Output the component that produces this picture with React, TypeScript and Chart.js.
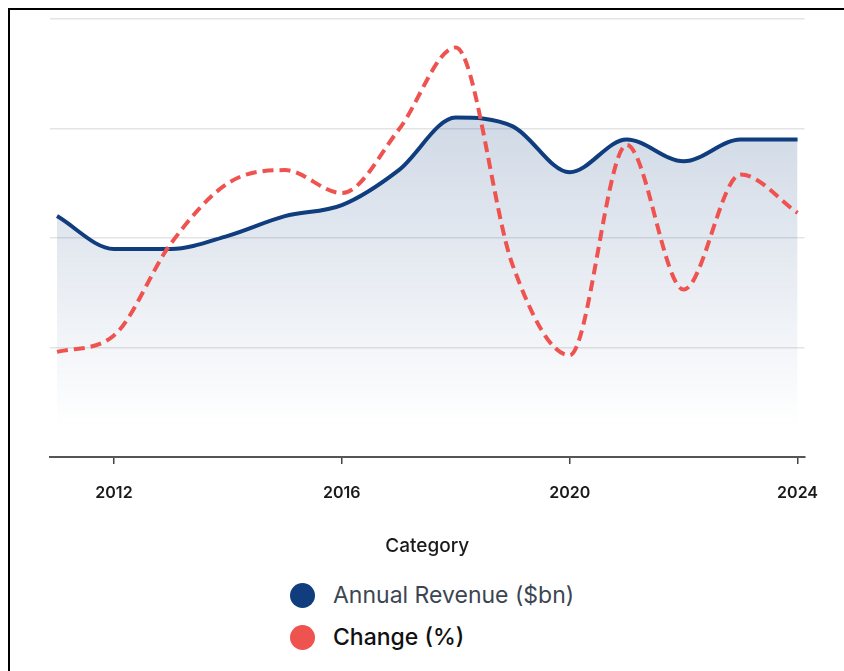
import React, { useEffect, useRef } from "react";
import { Chart, registerables } from "chart.js";

Chart.register(...registerables);

const years = [2011, 2012, 2013, 2014, 2015, 2016, 2017, 2018, 2019, 2020, 2021, 2022, 2023, 2024];
const revenue = [110, 95, 95, 101, 110, 115, 131, 155, 151, 130, 145, 135, 145, 145];
const change = [-10.4, -8.9, -0.5, 5.0, 6.2, 4.1, 9.9, 17.4, -2.5, -10.7, 8.5, -4.7, 5.8, 2.3];
const xTickValues = [2012, 2016, 2020, 2024];
const seriesNames = ["Annual Revenue ($bn)", "Change (%)"];
const axisTitle = "Category";

const BLUE = "#0f3d7e";
const RED = "#ef5350";
const FONT = "Inter, 'Noto Sans', sans-serif";

export default function App() {
  const canvasRef = useRef<HTMLCanvasElement | null>(null);

  useEffect(() => {
    const canvas = canvasRef.current;
    if (!canvas) return;
    const chart = new Chart(canvas, {
      type: "line",
      data: {
        datasets: [
          {
            label: seriesNames[0],
            data: years.map((y, i) => ({ x: y, y: revenue[i] })),
            yAxisID: "y",
            borderColor: BLUE,
            borderWidth: 4,
            pointRadius: 0,
            cubicInterpolationMode: "monotone",
            fill: "origin",
            backgroundColor: (ctx: any) => {
              const area = ctx.chart.chartArea;
              if (!area) return "rgba(15,61,126,0.2)";
              const g = ctx.chart.ctx.createLinearGradient(0, area.top, 0, area.bottom - 30);
              g.addColorStop(0, "rgba(15,61,126,0.26)");
              g.addColorStop(1, "rgba(15,61,126,0)");
              return g;
            },
            order: 2,
          },
          {
            label: seriesNames[1],
            data: years.map((y, i) => ({ x: y, y: change[i] })),
            yAxisID: "y1",
            borderColor: RED,
            borderWidth: 4,
            borderDash: [11, 6],
            pointRadius: 0,
            cubicInterpolationMode: "monotone",
            fill: false,
            order: 1,
          },
        ],
      },
      options: {
        animation: false,
        responsive: false,
        maintainAspectRatio: false,
        layout: { padding: { left: 40, right: 0, top: 9, bottom: 0 } },
        plugins: {
          legend: { display: false },
          tooltip: { enabled: false },
        },
        scales: {
          x: {
            type: "linear",
            min: years[0] - 0.123,
            max: years[years.length - 1] + 0.123,
            afterBuildTicks: (scale: any) => {
              scale.ticks = xTickValues.map((v) => ({ value: v }));
            },
            grid: { drawOnChartArea: false, drawTicks: true, tickLength: 7, color: "#444", lineWidth: 1.5 },
            border: { display: true, color: "#555", width: 2 },
            ticks: {
              padding: 20,
              color: "#1a1a1a",
              font: { family: FONT, size: 16, weight: 600 },
              callback: (v: any) => String(v),
              maxRotation: 0,
            },
            title: {
              display: true,
              text: axisTitle,
              color: "#1a1a1a",
              font: { family: FONT, size: 19, weight: 500 },
              padding: { top: 12, bottom: 5 },
            },
          },
          y: {
            position: "left",
            min: 0,
            max: 200,
            ticks: { display: false, stepSize: 50 },
            grid: { color: "#e4e4e4", lineWidth: 1.5, drawTicks: false },
            border: { display: false },
          },
          y1: {
            position: "right",
            display: false,
            min: -20,
            max: 20,
          },
        },
      },
    });
    return () => chart.destroy();
  }, []);

  const legendItems = [
    { label: seriesNames[0], color: BLUE, text: "#3b4652", weight: 400 },
    { label: seriesNames[1], color: RED, text: "#111111", weight: 500 },
  ];

  return (
    <div style={{ position: "fixed", inset: 0, overflow: "hidden", background: "#fff" }}>
      <div
        style={{
          position: "absolute",
          left: 8,
          top: 8,
          width: 860,
          height: 700,
          border: "2px solid #000",
          boxSizing: "border-box",
        }}
      >
        <canvas ref={canvasRef} width={828} height={553} style={{ position: "absolute", left: 0, top: 0, width: 828, height: 553 }} />
        <div style={{ position: "absolute", left: 280, top: 564, fontFamily: FONT, fontSize: 23 }}>
          {legendItems.map((it, i) => (
            <div key={i} style={{ display: "flex", alignItems: "center", height: 42 }}>
              <span
                style={{
                  display: "inline-block",
                  width: 25,
                  height: 25,
                  borderRadius: "50%",
                  background: it.color,
                  marginRight: 18,
                }}
              />
              <span style={{ color: it.text, fontWeight: it.weight }}>{it.label}</span>
            </div>
          ))}
        </div>
      </div>
    </div>
  );
}
